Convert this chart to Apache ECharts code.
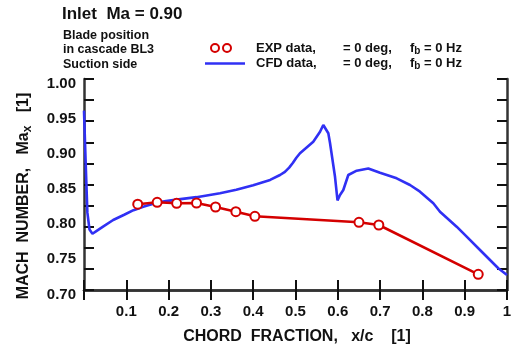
<!DOCTYPE html>
<html>
<head>
<meta charset="utf-8">
<script src="https://cdn.jsdelivr.net/npm/echarts@6/dist/echarts.min.js"></script>
<style>
  html, body { margin: 0; padding: 0; background: #fff; }
  #chart { width: 515px; height: 348px; }
</style>
</head>
<body>
<div id="chart"></div>
<script>
// Chord positions (x/c) and Mach numbers for the measured suction-side points
const expX = [0.127, 0.173, 0.219, 0.266, 0.311, 0.359, 0.404, 0.650, 0.697, 0.932];
const expMa = [0.822, 0.8247, 0.8233, 0.8237, 0.818, 0.8113, 0.8048, 0.7963, 0.7924, 0.7223];

// CFD suction-side Mach number distribution
const cfdX = [0.000, 0.004, 0.008, 0.013, 0.020, 0.030, 0.045, 0.069, 0.095, 0.117,
              0.140, 0.164, 0.190, 0.219, 0.266, 0.3215, 0.360, 0.400, 0.440, 0.4634,
              0.475, 0.485, 0.494, 0.502, 0.5106, 0.542, 0.558, 0.5657, 0.5776, 0.5816,
              0.5934, 0.5993, 0.6052, 0.613, 0.6248, 0.6447, 0.6721, 0.6998, 0.7392, 0.7707,
              0.7943, 0.8258, 0.8416, 0.881, 0.9047, 0.9362, 0.9598, 0.9794, 1.000];
const cfdMa = [0.955, 0.880, 0.810, 0.786, 0.780, 0.784, 0.790, 0.7995, 0.807, 0.8135,
               0.8185, 0.8225, 0.826, 0.8285, 0.832, 0.8375, 0.8425, 0.849, 0.8565, 0.8635,
               0.868, 0.874, 0.881, 0.888, 0.8945, 0.9109, 0.925, 0.9346, 0.9228, 0.909,
               0.861, 0.8273, 0.8351, 0.8422, 0.8635, 0.8696, 0.8727, 0.8668, 0.8588, 0.8493,
               0.8398, 0.8233, 0.8113, 0.790, 0.7758, 0.7569, 0.7427, 0.7309, 0.7213];

const xTickLabels = ['0.1', '0.2', '0.3', '0.4', '0.5', '0.6', '0.7', '0.8', '0.9', '1'];
const yTickLabels = ['0.70', '0.75', '0.80', '0.85', '0.90', '0.95', '1.00'];

const FONT = '"Liberation Sans", Arial, sans-serif';
const frameLine = { show: true, lineStyle: { color: '#333', width: 2.5 } };
const inTick = { show: true, inside: true, length: 10, lineStyle: { color: '#111', width: 2 } };

const chart = echarts.init(document.getElementById('chart'), null, { renderer: 'canvas' });

chart.setOption({
  animation: false,
  backgroundColor: '#fff',
  grid: { left: 84, right: 8, top: 79, bottom: 58, containLabel: false },
  xAxis: [
    {
      type: 'value', min: 0, max: 1, interval: 0.1, position: 'bottom',
      axisLine: frameLine, axisTick: inTick, splitLine: { show: false },
      axisLabel: {
        color: '#111', fontFamily: FONT, fontWeight: 'bold', fontSize: 15, margin: 14,
        formatter: v => { const i = Math.round(v * 10); return i === 0 ? '' : xTickLabels[i - 1]; }
      }
    },
    {
      type: 'value', min: 0, max: 1, interval: 0.1, position: 'top',
      axisLine: frameLine, axisTick: inTick, axisLabel: { show: false }, splitLine: { show: false }
    }
  ],
  yAxis: [
    {
      type: 'value', min: 0.70, max: 1.00, interval: 0.05, position: 'left',
      axisLine: frameLine, axisTick: { show: false }, splitLine: { show: false },
      axisLabel: {
        color: '#111', fontFamily: FONT, fontWeight: 'bold', fontSize: 15, margin: 8,
        verticalAlign: 'top', lineHeight: 9,
        formatter: v => yTickLabels[Math.round((v - 0.70) / 0.05)]
      }
    },
    // tick-only scales: ten equal divisions of the frame height, left and right
    {
      type: 'value', min: 0, max: 10, interval: 1, position: 'left',
      axisLine: { show: false }, axisTick: inTick, axisLabel: { show: false }, splitLine: { show: false }
    },
    {
      type: 'value', min: 0, max: 10, interval: 1, position: 'right',
      axisLine: frameLine, axisTick: inTick, axisLabel: { show: false }, splitLine: { show: false }
    }
  ],
  series: [
    {
      name: 'CFD data', type: 'line', xAxisIndex: 0, yAxisIndex: 0,
      data: cfdX.map((x, i) => [x, cfdMa[i]]),
      showSymbol: false, symbol: 'none', clip: true, z: 2,
      lineStyle: { color: '#3030f4', width: 2.6 }
    },
    {
      name: 'EXP data', type: 'line', xAxisIndex: 0, yAxisIndex: 0,
      data: expX.map((x, i) => [x, expMa[i]]),
      symbol: 'circle', symbolSize: 9, z: 3,
      itemStyle: { color: '#fff', borderColor: '#d40000', borderWidth: 2 },
      lineStyle: { color: '#d40000', width: 2.6 }
    }
  ],
  graphic: [
    { type: 'text', left: 62, top: 6,
      style: { text: 'Inlet  Ma = 0.90', font: 'bold 17px ' + FONT, fill: '#111' } },
    { type: 'text', left: 63, top: 29,
      style: { text: 'Blade position', font: 'bold 12.5px ' + FONT, fill: '#111' } },
    { type: 'text', left: 63, top: 43,
      style: { text: 'in cascade BL3', font: 'bold 12.5px ' + FONT, fill: '#111' } },
    { type: 'text', left: 63, top: 58,
      style: { text: 'Suction side', font: 'bold 12.5px ' + FONT, fill: '#111' } },

    // legend marks
    { type: 'circle', shape: { cx: 215, cy: 48, r: 4 },
      style: { fill: '#fff', stroke: '#d40000', lineWidth: 2 } },
    { type: 'circle', shape: { cx: 227, cy: 48, r: 4 },
      style: { fill: '#fff', stroke: '#d40000', lineWidth: 2 } },
    { type: 'line', shape: { x1: 205, y1: 63.5, x2: 245, y2: 63.5 },
      style: { stroke: '#3030f4', lineWidth: 2.6 } },

    // legend texts
    { type: 'text', x: 256, y: 48,
      style: { text: 'EXP data,', font: 'bold 13px ' + FONT, fill: '#111', verticalAlign: 'middle' } },
    { type: 'text', x: 343, y: 48,
      style: { text: '= 0 deg,', font: 'bold 13px ' + FONT, fill: '#111', verticalAlign: 'middle' } },
    { type: 'text', x: 410, y: 48,
      style: { text: '{n|f}{s|b}{n| = 0 Hz}', verticalAlign: 'middle',
        rich: { n: { font: 'bold 13px ' + FONT, fill: '#111' },
                s: { font: 'bold 10px ' + FONT, fill: '#111', verticalAlign: 'bottom', padding: [6, 0, 0, 0] } } } },
    { type: 'text', x: 256, y: 63.5,
      style: { text: 'CFD data,', font: 'bold 13px ' + FONT, fill: '#111', verticalAlign: 'middle' } },
    { type: 'text', x: 343, y: 63.5,
      style: { text: '= 0 deg,', font: 'bold 13px ' + FONT, fill: '#111', verticalAlign: 'middle' } },
    { type: 'text', x: 410, y: 63.5,
      style: { text: '{n|f}{s|b}{n| = 0 Hz}', verticalAlign: 'middle',
        rich: { n: { font: 'bold 13px ' + FONT, fill: '#111' },
                s: { font: 'bold 10px ' + FONT, fill: '#111', verticalAlign: 'bottom', padding: [6, 0, 0, 0] } } } },

    // axis titles
    { type: 'text', x: 297, y: 337,
      style: { text: 'CHORD  FRACTION,   x/c    [1]', font: 'bold 16px ' + FONT, fill: '#111',
               align: 'center', verticalAlign: 'middle' } },
    { type: 'text', x: 24, y: 196, rotation: Math.PI / 2,
      style: { text: '{n|MACH  NUMBER,   Ma}{s|x}{n|   [1]}', align: 'center', verticalAlign: 'middle',
        rich: { n: { font: 'bold 16px ' + FONT, fill: '#111' },
                s: { font: 'bold 12px ' + FONT, fill: '#111', padding: [8, 0, 0, 0] } } } }
  ]
});
</script>
</body>
</html>
